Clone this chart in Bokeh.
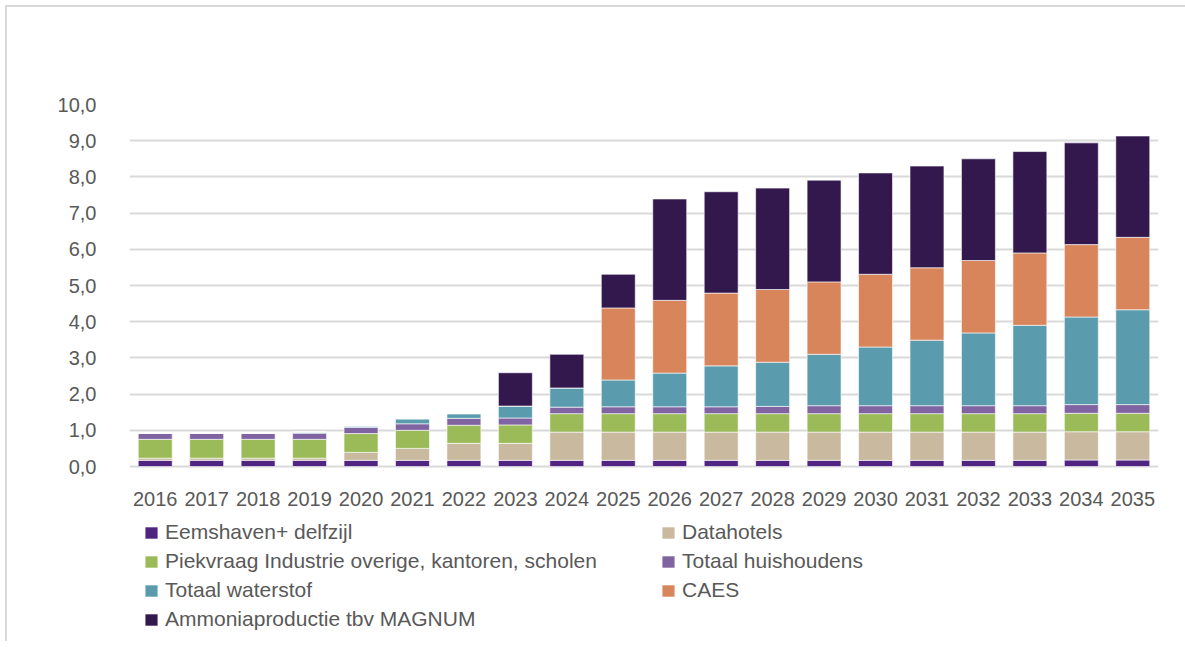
from bokeh.plotting import figure
from bokeh.models import Legend, LegendItem, FixedTicker, CustomJSTickFormatter
from bokeh.embed import file_html
from bokeh.resources import INLINE

years = [str(y) for y in range(2016, 2036)]
eemshaven = [0.17, 0.17, 0.17, 0.17, 0.17, 0.17, 0.17, 0.17, 0.17, 0.17,
             0.17, 0.17, 0.17, 0.17, 0.17, 0.17, 0.17, 0.17, 0.18, 0.18]
datahotels = [0.06, 0.06, 0.06, 0.06, 0.22, 0.33, 0.47, 0.47, 0.78, 0.78,
              0.78, 0.78, 0.78, 0.78, 0.78, 0.78, 0.78, 0.78, 0.78, 0.78]
piekvraag = [0.52, 0.52, 0.52, 0.52, 0.52, 0.50, 0.50, 0.51, 0.51, 0.51,
             0.51, 0.51, 0.51, 0.51, 0.51, 0.51, 0.51, 0.51, 0.51, 0.51]
huishoudens = [0.17, 0.17, 0.17, 0.17, 0.17, 0.18, 0.19, 0.19, 0.18, 0.19,
               0.19, 0.19, 0.20, 0.22, 0.22, 0.22, 0.22, 0.22, 0.24, 0.24]
waterstof = [0.0, 0.0, 0.0, 0.03, 0.04, 0.14, 0.13, 0.33, 0.53, 0.74,
             0.93, 1.13, 1.22, 1.42, 1.62, 1.81, 2.01, 2.22, 2.42, 2.62]
caes = [0.0, 0.0, 0.0, 0.0, 0.0, 0.0, 0.0, 0.0, 0.0, 1.99,
        2.01, 2.01, 2.01, 2.00, 2.01, 2.00, 2.00, 2.00, 2.00, 2.00]
ammonia = [0.0, 0.0, 0.0, 0.0, 0.0, 0.0, 0.0, 0.92, 0.93, 0.93,
           2.80, 2.80, 2.80, 2.81, 2.80, 2.81, 2.81, 2.80, 2.81, 2.80]

series_names = ["Eemshaven+ delfzijl", "Datahotels",
                "Piekvraag Industrie overige, kantoren, scholen",
                "Totaal huishoudens", "Totaal waterstof", "CAES",
                "Ammoniaproductie tbv MAGNUM"]
keys = ["eem", "data", "piek", "huis", "water", "caes", "amm"]
colors = ["#502582", "#c9b99e", "#9bbb59", "#8064a2", "#5a9cad", "#d9855b", "#33184e"]
y_ticks = [0, 1, 2, 3, 4, 5, 6, 7, 8, 9, 10]

source = dict(years=years, eem=eemshaven, data=datahotels, piek=piekvraag,
              huis=huishoudens, water=waterstof, caes=caes, amm=ammonia)

FONT = "Liberation Sans"
TXT = "#595959"

# frame spans from the top of the value axis down to the bottom of the page,
# so the legend (below the category axis) lives inside the frame
p = figure(x_range=years, y_range=(-4.834, 10), frame_width=1029, frame_height=537,
           output_backend="svg", toolbar_location=None,
           min_border_left=122, min_border_right=27, min_border_top=97,
           min_border_bottom=0,
           styles={"margin-left": "5px", "margin-top": "5px",
                   "border-top": "2px solid #d9d9d9",
                   "border-left": "2px solid #d9d9d9"})

renderers = p.vbar_stack(keys, x="years", width=0.66, color=colors, source=source,
                         line_color="white", line_alpha=0.6, line_width=1)

p.outline_line_color = None
p.background_fill_color = "white"
p.border_fill_color = "white"
p.xgrid.grid_line_color = None
p.ygrid.grid_line_color = "#d9d9d9"
p.ygrid.grid_line_width = 2
p.ygrid.level = "underlay"

p.yaxis.ticker = FixedTicker(ticks=y_ticks)
p.yaxis.formatter = CustomJSTickFormatter(code="return tick.toFixed(1).replace('.', ',');")
p.xaxis.fixed_location = 0
for ax in (p.xaxis[0], p.yaxis[0]):
    ax.axis_line_color = None
    ax.major_tick_line_color = None
    ax.minor_tick_line_color = None
    ax.major_label_text_font = FONT
    ax.major_label_text_font_size = "20px"
    ax.major_label_text_color = TXT
p.yaxis.major_label_standoff = 27
p.xaxis.major_label_standoff = 19

def make_legend(idx, x, y):
    items = [LegendItem(label=series_names[i], renderers=[renderers[i]]) for i in idx]
    return Legend(items=items, location=(x, y), orientation="vertical",
                  glyph_width=16, glyph_height=15, label_standoff=6,
                  label_height=20, spacing=5, padding=0, margin=0,
                  border_line_color=None, background_fill_alpha=0,
                  label_text_font=FONT, label_text_font_size="21px",
                  label_text_color=TXT)

p.add_layout(make_legend([0, 2, 4, 6], 14, 10), "center")
p.add_layout(make_legend([1, 3, 5], 531, 39), "center")

open("out.html", "w").write(file_html(p, INLINE))
